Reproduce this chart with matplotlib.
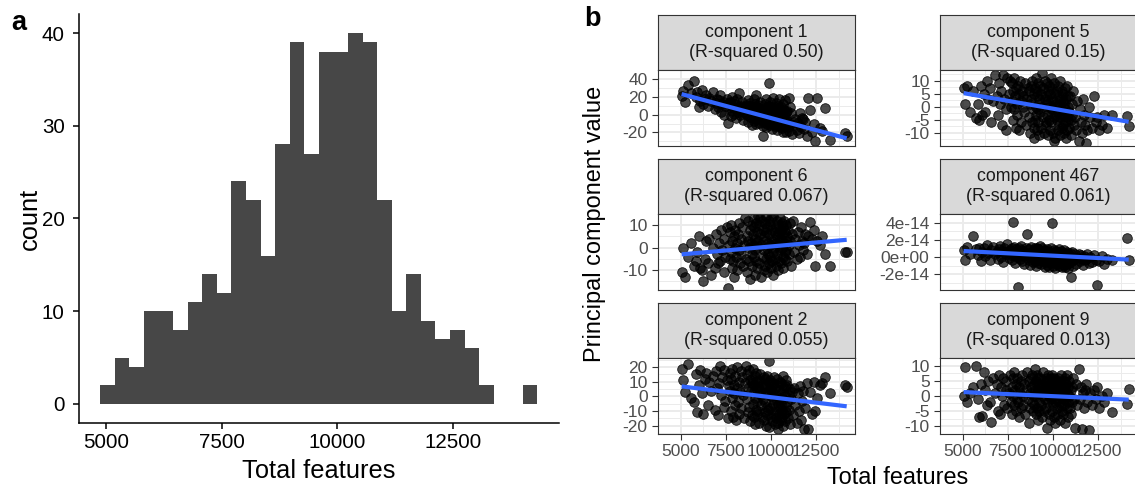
import matplotlib.pyplot as plt
import numpy as np

plt.rcParams['font.family'] = ['Liberation Sans', 'DejaVu Sans']
plt.rcParams['axes.unicode_minus'] = False

W, H = 1135, 493

# Panel a: histogram of total features per cell
hist_start = 4877
hist_width = 315
hist_counts = [2, 5, 4, 10, 10, 8, 11, 14, 12, 24, 22, 16, 28, 39, 27,
               38, 38, 40, 39, 22, 10, 14, 9, 7, 8, 6, 2, 0, 0, 2]

# Panel b: cells (x) and their principal component values
total_features = [
    5060, 5150,
    5250, 5420,
    5600, 5750,
    5850, 5930, 6020, 6100,
    6170, 6250, 6330, 6420,
    6500, 6600, 6700,
    6800, 6880, 6960, 7040,
    7100, 7150, 7200, 7260, 7320, 7380,
    7420, 7480, 7550, 7620, 7690,
    7720, 7750, 7780, 7810, 7840, 7870, 7900, 7940, 7970, 8010,
    8040, 8070, 8100, 8140, 8170, 8210, 8250, 8290, 8330,
    8360, 8410, 8460, 8520, 8580, 8640,
    8670, 8700, 8720, 8750, 8780, 8810, 8840, 8870, 8900, 8930, 8960,
    8980, 9000, 9020, 9040, 9060, 9080, 9100, 9120, 9140, 9160, 9180, 9200, 9220, 9240, 9260, 9280,
    9300, 9330, 9360, 9390, 9420, 9450, 9480, 9510, 9540, 9570, 9600,
    9610, 9630, 9650, 9670, 9690, 9710, 9730, 9750, 9770, 9790, 9810, 9830, 9850, 9870, 9900,
    9920, 9940, 9960, 9980, 10000, 10020, 10040, 10060, 10080, 10100, 10120, 10140, 10160, 10190, 10220,
    10240, 10260, 10280, 10300, 10320, 10340, 10360, 10380, 10400, 10420, 10440, 10460, 10480, 10500, 10520, 10540,
    10560, 10580, 10600, 10620, 10640, 10660, 10680, 10700, 10720, 10740, 10760, 10780, 10800, 10820, 10840, 10860,
    10880, 10910, 10940, 10980, 11010, 11050, 11080, 11120, 11160,
    11200, 11280, 11360, 11450,
    11510, 11560, 11620, 11680, 11740, 11790,
    11830, 11910, 11990, 12080,
    12150, 12270, 12400,
    12470, 12580, 12700,
    12820, 12980,
    13250,
    14080, 14200,
]

pc1 = [
    21, 26,
    14, 33,
    24, 38,
    20, 25, 8, 15,
    28, 12, 18, 22,
    10, 19, 15,
    25, 6, 13, 18,
    9, 16, 22, 3, 12, 14,
    0, 10, 17, -9, 13,
    8, 14, -2, 11, 20, 4, 9, 15, 1, 7,
    12, -4, 6, 17, 3, 9, 24, -1, 10,
    5, 14, -6, 8, 2, 11,
    0, 7, 16, -8, 4, 10, -3, 13, 2, 6, -12,
    9, -2, 4, 18, -7, 1, 12, -4, 6, 22, 0, -10, 8, 3, -5, 11,
    -1, 7, -9, 14, 2, 2, -4, 5, -13, -24, -6,
    3, -8, 12, -2, 6, -14, 1, 17, -5, 8, -11, 4, -3, 10, 35,
    -4, 6, -12, 14, 0, -8, 9, -16, 3, -6, 19, -2, -10, 5, -13,
    2, -9, 13, -5, 7, -17, -1, 10, -12, 4, -7, 18, -3, -14, 6, -10,
    -6, 8, -15, 1, -9, 12, -4, -19, 5, -11, 16, -2, -13, 3, -8, -20,
    -7, 4, -14, 19, -18, 9, -10, 2, -22,
    -12, -8, -5, -17,
    -9, -21, 2, -14, -4, -5,
    -16, -8, -24, 19,
    5, -19, -11,
    -30, 19, -15,
    -18, 7,
    -28,
    -21, -24,
]

pc5 = [
    7, 1,
    8, -2,
    6, -4.5,
    1, -5, 8, -3,
    5, -2, 10, 3,
    7, -6, 2,
    12, 4, -3, 9,
    1, 6, -7, 12, 3, -1,
    -9, 11, 5, 10, 0,
    2, 9, -5, 6, -1, 11, 4, -8, 7, 1,
    -3, 8, 5, -9, 10, 2, -6, 6, 0,
    4, -2, 9, -7, 3, 7,
    -4, 6, 1, -10, 8, 3, -6, 10, -1, 5, -8,
    -12, -5, 7, 0, 11, -3, 4, -9, 6, -1, 9, -6, 3, -11, 1, 8,
    -2, 5, -8, 12.8, 0, -4, 7, -10, 3, 10, -6,
    4, -7, 1, 9, -3, 6, -11, 2, -5, 8, 0, -9, 5, -2, 11,
    -6, 3, -1, 7, -10, 2, -4, 9, -13, 0, 5, -12, 1, -3, 6,
    -5, 8, -2, -9, 4, -7, 1, 10, -4, -11, 3, -1, 6, -8, -3, 2,
    -7, 5, -3, -10, 1, 7, -6, -1, -12, 3, -4, 8, -9, 0, -5, 4,
    -2, -8, 4, -5, -11, 1, -3, 6, -7,
    -4, -9, 2, -13,
    -1, -6, -10, 3, -3, -7,
    -14, -9, 0, -4,
    -8, 4, -6,
    -4, -9, -7,
    -3, -8,
    -3,
    -3.5, -7.5,
]

pc6 = [
    -11, 0,
    -13, -4,
    2, -8,
    -6, -2, 5, -9,
    -10, -15, -5, 3,
    -7, 4, -12,
    0, -9, 6, -3,
    -7, 2, -6, 8, -1, -11,
    4, -4, 9, -18, 1,
    -5, 7, -2, 10, -9, 3, -6, 5, -13, 0,
    8, -4, 2, -10, 6, -1, 11, -7, 4,
    -3, 9, -8, 1, 13, -5,
    5, -11, 3, 12, -6, 0, 8, -14, 2, 10, -3,
    -8, 6, 1, 13, -4, 9, -1, -12, 4, 11, -6, 2, 7, -9, 0, 14,
    3, -7, 10, 13, 6, -13, 1, 12, -4, 8, -10,
    5, -1, 11, -8, 3, 14, -5, 7, 0, -11, 9, 2, -3, 12, -7,
    6, -4, 10, 1, -9, 13, 3, -6, 8, -2, 14, -12, 4, 0, 7,
    -5, 9, 2, -8, 12, 5, -3, 10, -10, 1, 7, -6, 13, 3, -1, 8,
    4, -7, 11, 0, 6, -4, 9, -9, 2, 12, -2, 7, -5, 3, 10, -1,
    5, -6, 8, 1, -3, 11, 3, -8, 6,
    12, -2, 4, -5,
    7, 1, -4, 9, 3, -1,
    2, 6, -3, 5,
    11.6, 4, 8,
    -8, 3, 1,
    5, -3,
    -8.4,
    -2, -1.8,
]

# component 467 values in units of 1e-14
pc467_e14 = [
    0.8, -0.4,
    1.2, 0.3,
    2.5, 0.9,
    0.2, 1.1, -0.5, 0.6,
    1.0, 0.1, 1.4, 0.5,
    -0.3, 0.8, 1.2,
    0.4, 0.6, -0.2, 0.9,
    1.3, 0.0, 0.7, -0.6, 1.1, 0.3,
    0.6, 1.5, -0.1, 0.8, 0.2,
    1.0, -0.4, 0.5, 4.1, 0.2, 1.2, -0.7, 0.6, 0.9, 0.0,
    0.3, -3.5, 1.1, 0.4, -0.2, 0.8, 1.3, -0.5, 0.1,
    0.7, -0.8, 0.2, 1.0, 2.7, 0.4,
    -0.3, 0.9, 0.1, -0.9, 0.6, 1.2, -0.1, 0.5, -0.6, 0.8, 0.2,
    0.4, -0.5, 1.0, 0.0, 0.7, -1.0, 0.3, 1.1, -0.2, 0.6, -0.7, 0.9, 0.1, -0.4, 0.5, 1.3,
    -0.1, 0.6, -0.8, 0.3, 1.0, -0.4, 0.2, 0.8, -1.1, 0.4, -0.3,
    0.5, -0.6, 0.1, 0.9, -0.9, 0.3, -0.2, 0.7, -1.2, 0.0, 0.6, -0.5, 0.2, 1.0, -0.7,
    0.1, 4.0, -0.4, 0.5, -1.0, 0.2, 0.8, -0.6, 0.0, 0.4, -1.3, 0.3, -0.2, 0.7, -0.8,
    0.0, 0.6, -0.7, 0.2, -0.3, 0.9, -1.0, 0.1, -0.3, 0.4, -0.5, 0.7, -1.2, 0.3, -0.1, 0.5,
    -0.6, 0.2, -0.2, 0.8, -0.9, 0.0, 0.5, -1.1, 0.3, -0.4, 0.6, -0.8, 0.1, -1.3, 0.4, -0.3,
    0.2, -0.7, 0.5, -2.3, 0.0, -0.5, 0.6, -1.0, -0.2,
    0.3, -0.8, -0.1, 0.4,
    -0.5, 0.2, -0.2, -0.9, 0.1, -0.4,
    -0.2, 0.3, -0.7, 0.0,
    -0.6, 0.2, -0.3,
    -3.2, -0.5, 0.1,
    -0.8, -0.2,
    -0.4,
    2.2, -0.4,
]

pc2 = [
    19, 11,
    3, 22,
    -1, -4,
    15, -11, 8, 18,
    2, -12, 12, 16,
    -6, 10, 4,
    14, -9, 17, 6,
    -13, 9, 21, 1, 13, -7,
    18, -3, 11, -15, 7,
    4, 16, -10, 12, -1, 19, -14, 8, 2, -6,
    14, -16, 6, 20, -4, 10, -12, 3, 17,
    -8, 13, 1, -15, 9, 21,
    -2, 15, -11, 6, 18, -7, 11, -17, 4, 9, -13,
    12, -5, 19, -14, 3, 8, -19, 14, -1, 10, -9, 16, -12, 5, -3, 7,
    -10, 11, -18, 4, 15, -6, 1, -14, 9, -2, 13,
    -16, 6, -4, 12, -11, 2, -20, 8, -7, 14, -13, 3, -9, 10, 24,
    -21, 5, -8, 11, -14, 0, 7, -17, 3, -5, 9, -12, 13, -2, -19,
    6, -10, 1, -15, 8, -3, 12, -18, -6, -22, 4, -12, 10, -8, -1, -16,
    -5, 9, -14, 2, -9, 14, -20, -2, 6, -12, 0, -17, 7, -7, 11, -11,
    -4, 8, -15, 1, -9, 5, -19, -2, 3,
    -13, 6, -6, -18,
    2, -10, 7, -16, -3, 4,
    -22, -8, 9, -22,
    3, -12, 10,
    -10, -1, 8,
    9, 13,
    2,
    7.5, 6.5,
]

pc9 = [
    0, 9.6,
    -2, 1,
    3, 10,
    -1, -7, 4, -6.5,
    8, 2, -3, 5,
    -2, -8.5, 6,
    1, 4, -5, 7,
    -6, 3, 0, 6, -3, 2,
    5, -4, 1, 7, -2,
    3, -6, 6, 0, -3, 8, 2, -5, 4, -1,
    6, -2, 3, -7, 1, 5, -4, 7, 0,
    -3, 4, -6, 2, 8, -1,
    5, -9, 1, -4, 6, 3, -2, 7, -5, 0, 4,
    -3, 9, 2, -6, 5, 0, -4, 7, 1, -8, 3, 6, -2, 4, -5, 1,
    6, -3, 2, -7, 4, 0, 8, -5, 3, -1, 5,
    -4, 2, 6, -10.7, 1, 5, -2, 7, -6, 3, 0, -8, 4, -1, 6,
    2, -5, 7, 0, -3, 4, -7, 1, 6, -2, 3, -9, 5, -1, 2,
    -4, 6, 1, -6, 3, -2, 5, 0, -8, 4, -3, 7, 1, -5, 2, -1,
    3, -6, 0, 5, -3, 2, -9, 6, -1, 4, -4, 1, 7, -2, 3, -7,
    0, 5, -4, 2, -6, 3, -2, 6, -1,
    -10.7, 4, -3, 8.8,
    -1, 3, -11, 1, -4, 2,
    4, -2, -11.3, 1,
    -3, 2, -1,
    3, -4, 0,
    -2, 1,
    -5.2,
    -2.6, 2.3,
]

components = ['1', '5', '6', '467', '2', '9']
r_squared = ['0.50', '0.15', '0.067', '0.061', '0.055', '0.013']
pc_values = [pc1, pc5, pc6, [v * 1e-14 for v in pc467_e14], pc2, pc9]
# linear fit value at the smallest and largest total features
fit_ends = [(23, -26.6), (5.2, -5.8), (-3.0, 3.5), (0.7e-14, -0.3e-14),
            (6.8, -6.8), (1.25, -1.25)]
y_limits = [(-35.2, 41.7), (-15.1, 14.1), (-18.9, 14.7), (-3.83e-14, 4.55e-14),
            (-25.7, 26.2), (-12.6, 11.0)]
y_ticks = [[-20, 0, 20, 40], [-10, -5, 0, 5, 10], [-10, 0, 10],
           [-2e-14, 0, 2e-14, 4e-14], [-20, -10, 0, 10, 20], [-10, -5, 0, 5, 10]]
y_tick_labels = [None, None, None, ['-2e-14', '0e+00', '2e-14', '4e-14'], None, None]
x_ticks = [5000, 7500, 10000, 12500]


def box(x0, y0, x1, y1):
    # pixel box (top-left origin) -> figure fraction rect
    return [x0 / W, 1 - y1 / H, (x1 - x0) / W, (y1 - y0) / H]


def fig_text(fig, x, y, s, **kw):
    fig.text(x / W, 1 - y / H, s, **kw)


def midpoints(ticks):
    step = ticks[1] - ticks[0]
    return np.arange(ticks[0] - step / 2, ticks[-1] + step, step)


def histogram_panel(fig):
    ax = fig.add_axes(box(78.5, 14.5, 559, 422.5))
    edges = hist_start + hist_width * np.arange(len(hist_counts))
    ax.bar(edges, hist_counts, width=hist_width, align='edge',
           color='#474747', linewidth=0)
    ax.set_xlim(4405, 14794)
    ax.set_ylim(-2, 42)
    ax.set_xticks(x_ticks)
    ax.set_yticks([0, 10, 20, 30, 40])
    for side in ['top', 'right']:
        ax.spines[side].set_visible(False)
    for side in ['left', 'bottom']:
        ax.spines[side].set_linewidth(1.1)
    ax.tick_params(length=4, width=1.1, labelsize=14.8, colors='black')
    ax.tick_params(axis='x', pad=3.5)
    ax.tick_params(axis='y', pad=6)

    fig_text(fig, 318.5, 470.5, 'Total features', fontsize=18.3,
             ha='center', va='center')
    fig_text(fig, 30, 218.5, 'count', fontsize=18.3, rotation=90,
             ha='center', va='center')


def facet_panels(fig):
    cols = [(658, 855), (940, 1137)]
    for i, comp in enumerate(components):
        row, col = divmod(i, 2)
        x0, x1 = cols[col]
        top = 15 + 144 * row

        # Strip with the facet title
        strip = fig.add_axes(box(x0, top, x1, top + 55))
        strip.set_facecolor('#D9D9D9')
        strip.set_xticks([])
        strip.set_yticks([])
        for sp in strip.spines.values():
            sp.set_color('#333333')
            sp.set_linewidth(0.8)
        strip.text(0.5, 0.5, f'component {comp}\n(R-squared {r_squared[i]})',
                   ha='center', va='center', fontsize=12.8, color='#1A1A1A',
                   linespacing=1.3, transform=strip.transAxes)

        ax = fig.add_axes(box(x0, top + 55, x1, top + 131))
        ax.set_facecolor('white')
        ax.scatter(total_features, pc_values[i], s=48, facecolor=(0, 0, 0, 0.7),
                   edgecolor=(0, 0, 0, 0.85), linewidth=0.6, zorder=2)
        ax.plot([min(total_features), max(total_features)], fit_ends[i],
                color='#3366FF', lw=3.0, solid_capstyle='butt', zorder=3)

        ax.set_xlim(4650, 14660)
        ax.set_ylim(*y_limits[i])
        ax.set_xticks(x_ticks)
        ax.set_xticks(midpoints(x_ticks), minor=True)
        ax.set_yticks(y_ticks[i])
        ax.set_yticks(midpoints(y_ticks[i]), minor=True)
        if y_tick_labels[i]:
            ax.set_yticklabels(y_tick_labels[i])
        ax.grid(which='major', color='#EBEBEB', lw=1.4, zorder=0)
        ax.grid(which='minor', color='#EBEBEB', lw=0.7, zorder=0)
        ax.set_axisbelow(True)
        for sp in ax.spines.values():
            sp.set_color('#333333')
            sp.set_linewidth(0.8)
        ax.tick_params(which='major', length=4, width=0.8, color='#333333',
                       labelcolor='#4D4D4D', labelsize=12.5, pad=3.5)
        ax.tick_params(which='minor', length=0)
        if row < 2:
            ax.tick_params(axis='x', which='both', bottom=False, labelbottom=False)

    fig_text(fig, 897.5, 477, 'Total features', fontsize=16.9,
             ha='center', va='center')
    fig_text(fig, 594, 224, 'Principal component value', fontsize=16.9,
             rotation=90, ha='center', va='center')


fig = plt.figure(figsize=(W / 100, H / 100), dpi=100, facecolor='white')
histogram_panel(fig)
facet_panels(fig)

fig_text(fig, 11, 30, 'a', fontsize=19.5, fontweight='bold', ha='left', va='baseline')
fig_text(fig, 584, 26, 'b', fontsize=19.5, fontweight='bold', ha='left', va='baseline')

fig.savefig('out.png', dpi=100)
